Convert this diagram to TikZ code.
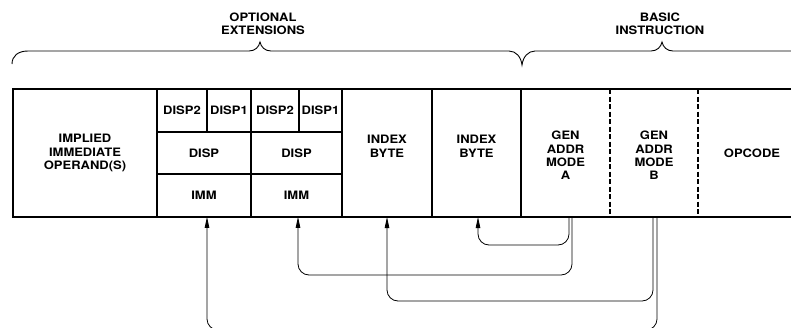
\documentclass[tikz,border=0pt]{standalone}
\usepackage{fontspec}
\newfontfamily\heros[FakeStretch=1.12, BoldFeatures={FakeStretch=1.12}]{TeX Gyre Heros}
\usetikzlibrary{arrows.meta, calc}
\newcommand{\Lbl}{\heros\bfseries\fontsize{11.6}{13.3}\selectfont}
\tikzset{
    cell/.style={draw, line width=1.6pt, inner sep=0pt, outer sep=0pt, align=center, font=\Lbl},
    tall/.style={minimum height=128pt},
    row/.style={minimum height=42.7pt},
    hdr/.style={align=center, inner sep=0pt, font=\Lbl},
    frame/.style={line width=1.6pt},
    sep/.style={line width=1.5pt, dash pattern=on 5pt off 2.5pt},
    brace/.style={line width=0.9pt},
    conn/.style={line width=0.8pt, rounded corners=11pt, -{Triangle[length=11pt,width=4.5pt]}},
}
\begin{document}
\begin{tikzpicture}[x=1pt, y=-1pt]
    \useasboundingbox (0,0) rectangle (791,327);
    \clip (0,0) rectangle (791,327);

    % headings and braces
    \node[hdr] (extHdr) at (263,24) {OPTIONAL\\EXTENSIONS};
    \node[hdr] (basicHdr) at (660,24) {BASIC\\INSTRUCTION};
    \draw[brace] (12,64) .. controls (12,56) and (18,51) .. (28,51) -- (249,51)
        .. controls (255,51) and (259,47) .. (260,42)
        .. controls (261,47) and (265,51) .. (271,51) -- (509,51)
        .. controls (516,51) and (521,57) .. (522,65)
        .. controls (523,57) and (528,51) .. (535,51) -- (651,51)
        .. controls (657,51) and (661,47) .. (662,42)
        .. controls (663,47) and (667,51) .. (673,51) -- (800,51);

    % optional extensions
    \node[cell, tall, minimum width=144pt] (implied) at (85,153) {IMPLIED\\IMMEDIATE\\OPERAND(S)};
    \node[cell, row, minimum width=50pt] (dispTwoA) at (182,110.5) {DISP2};
    \node[cell, row, minimum width=44pt] (dispOneA) at (229,110.5) {DISP1};
    \node[cell, row, minimum width=94pt] (dispA) at (204,153) {DISP};
    \node[cell, row, minimum width=94pt] (immA) at (204,195.5) {IMM};
    \node[cell, row, minimum width=48pt] (dispTwoB) at (275,110.5) {DISP2};
    \node[cell, row, minimum width=43pt] (dispOneB) at (320.5,110.5) {DISP1};
    \node[cell, row, minimum width=91pt] (dispB) at (296.5,153) {DISP};
    \node[cell, row, minimum width=91pt] (immB) at (296.5,195.5) {IMM};
    \node[cell, tall, minimum width=90pt] (idxA) at (387,153) {INDEX\\BYTE\\\mbox{}};
    \node[cell, tall, minimum width=89pt] (idxB) at (476.5,153) {INDEX\\BYTE\\\mbox{}};

    % basic instruction
    \node[cell, tall, draw=none, minimum width=89pt] (modeA) at (565.5,153) {\mbox{}\\GEN\\ADDR\\MODE\\A};
    \node[cell, tall, draw=none, minimum width=88pt] (modeB) at (654,153) {\mbox{}\\GEN\\ADDR\\MODE\\B};
    \node[cell, tall, draw=none, minimum width=108pt] (opcode) at (752,153) {OPCODE};
    \draw[frame] (modeA.north west) -- (opcode.north east);
    \draw[frame] (modeA.south west) -- (opcode.south east);
    \draw[sep] (modeA.north east) -- (modeA.south east);
    \draw[sep] (modeB.north east) -- (modeB.south east);

    % addressing mode pointers
    \draw[conn] ([xshift=3.5pt]modeA.south) -- ++(0,28) -| ([xshift=1.5pt]idxB.south);
    \draw[conn] ([xshift=6.5pt]modeA.south) -- ++(0,58) -| ([xshift=1.5pt]immB.south);
    \draw[conn] ([xshift=-1pt]modeB.south) -- ++(0,84) -| (idxA.south);
    \draw[conn] ([xshift=3pt]modeB.south) -- ++(0,113) -| ([xshift=3pt]immA.south);
\end{tikzpicture}
\end{document}
